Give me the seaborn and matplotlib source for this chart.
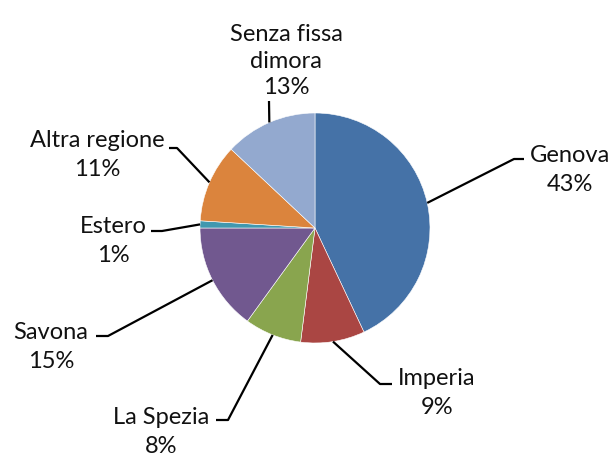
import numpy as np
import matplotlib
matplotlib.use("Agg")
import matplotlib.pyplot as plt
import seaborn as sns

# dati
labels = ["Genova", "Imperia", "La Spezia", "Savona", "Estero", "Altra regione", "Senza fissa\ndimora"]
values = [43, 9, 8, 15, 1, 11, 13]
colors = ["#4572A7", "#AA4643", "#89A54E", "#71588F", "#4198AF", "#DB843D", "#93A9CF"]

# layout (pixel immagine, y verso il basso)
W, H = 616, 462
CX, CY, R = 315, 228, 115
text_pos = [(570, 170), (437, 393), (161, 432), (51, 347), (113, 241), (97, 155), (286, 61)]
spacing = [1.5, 1.5, 1.5, 1.5, 1.5, 1.5, 1.35]
elbows = [((514, 159), (524, 159)), ((380, 384), (392, 384)), ((228, 420), (216, 420)),
          ((108, 336), (96, 336)), ((162, 231), (151, 231)), ((177, 148), (169, 148)),
          ((269, 101), (269, 101))]

sns.set_theme(style="white")
plt.rcParams["font.family"] = ["Lato", "DejaVu Sans"]

fig = plt.figure(figsize=(W / 100, H / 100), dpi=100)
ax = fig.add_axes([0, 0, 1, 1])
ax.pie(values, colors=colors, startangle=90, counterclock=False,
       center=(CX, H - CY), radius=R, frame=True,
       wedgeprops=dict(edgecolor="white", linewidth=0.4))
ax.set_xlim(0, W)
ax.set_ylim(0, H)
ax.set_aspect("equal")
ax.axis("off")

total = sum(values)
cum = np.cumsum([0] + values[:-1])
for i, lab in enumerate(labels):
    mid = (cum[i] + values[i] / 2) / total * 2 * np.pi
    px = CX + R * np.sin(mid)
    py = CY - R * np.cos(mid)
    (ex, ey), (hx, hy) = elbows[i]
    ax.plot([px, ex, hx], [H - py, H - ey, H - hy], color="black", lw=1.6,
            solid_capstyle="butt")
    tx, ty = text_pos[i]
    ax.text(tx, H - ty, f"{lab}\n{values[i]}%", ha="center", va="center",
            fontsize=17, linespacing=spacing[i], color="#111111")

fig.savefig("out.png", dpi=100)
